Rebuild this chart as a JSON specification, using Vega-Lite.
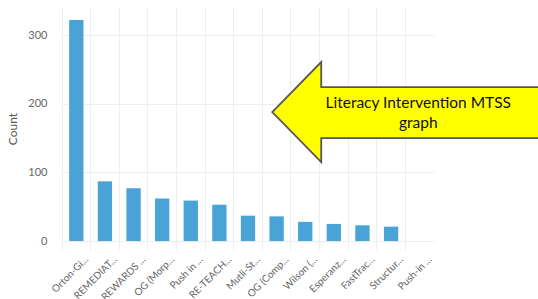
{
  "$schema": "https://vega.github.io/schema/vega-lite/v6.json",
  "width": 355,
  "height": 243,
  "autosize": {"type": "none"},
  "padding": {"left": 52, "top": 7, "right": 131, "bottom": 49},
  "background": "white",
  "config": {
    "view": {"stroke": null},
    "font": "Lato",
    "axis": {"gridColor": "#eeeeee", "gridWidth": 1, "domain": false, "ticks": false, "labelColor": "#666666", "titleColor": "#555555", "labelFont": "Lato", "titleFont": "Lato"}
  },
  "layer": [
    {
      "data": {
        "values": [
          {"intervention": "Orton-Gillingham", "count": 322},
          {"intervention": "REMEDIATE", "count": 87},
          {"intervention": "REWARDS Intermediate", "count": 77},
          {"intervention": "OG (Morphology)", "count": 62},
          {"intervention": "Push in support", "count": 59},
          {"intervention": "RE-TEACH Reading", "count": 53},
          {"intervention": "Mutli-Step", "count": 37},
          {"intervention": "OG (Comprehension)", "count": 36},
          {"intervention": "Wilson (WRS)", "count": 28},
          {"intervention": "Esperanza", "count": 25},
          {"intervention": "FastTrack", "count": 23},
          {"intervention": "Structured Literacy", "count": 21},
          {"intervention": "Push-in small group", "count": 19}
        ]
      },
      "mark": {"type": "bar", "color": "#4aa3d7", "clip": true, "width": {"band": 0.5}},
      "encoding": {
        "x": {
          "field": "intervention",
          "type": "nominal",
          "sort": null,
          "scale": {
            "domain": ["Orton-Gillingham", "REMEDIATE", "REWARDS Intermediate", "OG (Morphology)", "Push in support", "RE-TEACH Reading", "Mutli-Step", "OG (Comprehension)", "Wilson (WRS)", "Esperanza", "FastTrack", "Structured Literacy", "Push-in small group"],
            "range": [10, 382],
            "paddingInner": 0,
            "paddingOuter": 0
          },
          "axis": {
            "title": null,
            "bandPosition": 0,
            "grid": true,
            "labelAngle": -45,
            "labelOffset": 7,
            "labelPadding": 4,
            "labelFontSize": 10,
            "labelOverlap": false,
            "labelBound": false,
            "labelExpr": "length(datum.label) > 8 ? slice(datum.label, 0, 8) + '...' : datum.label"
          }
        },
        "y": {
          "field": "count",
          "type": "quantitative",
          "scale": {"domain": [-13, 341], "nice": false, "zero": false},
          "axis": {
            "values": [0, 100, 200, 300],
            "title": "Count",
            "grid": true,
            "labelPadding": 5,
            "labelFontSize": 11,
            "titleFontSize": 12,
            "titleFontWeight": "normal",
            "titlePadding": 8
          }
        }
      }
    },
    {
      "data": {"values": [{"anchor": "Wilson (WRS)", "level": 188}]},
      "mark": {
        "type": "point",
        "shape": "M-0.66,0L0.32,-1L0.32,-0.5L6,-0.5L6,0.52L0.32,0.52L0.32,1Z",
        "size": 10000,
        "filled": true,
        "fill": "#ffff00",
        "stroke": "#555555",
        "strokeWidth": 1.8,
        "opacity": 1
      },
      "encoding": {
        "x": {"field": "anchor", "type": "nominal", "sort": null},
        "y": {"field": "level", "type": "quantitative"}
      }
    },
    {
      "data": {"values": [{"anchor": "Wilson (WRS)", "level": 201}]},
      "mark": {
        "type": "text",
        "text": ["Literacy Intervention MTSS", "graph"],
        "dx": 113,
        "fontSize": 15.5,
        "fontWeight": 400,
        "font": "Lato",
        "fill": "#111111",
        "lineHeight": 20,
        "baseline": "middle",
        "align": "center"
      },
      "encoding": {
        "x": {"field": "anchor", "type": "nominal", "sort": null},
        "y": {"field": "level", "type": "quantitative"}
      }
    }
  ]
}
